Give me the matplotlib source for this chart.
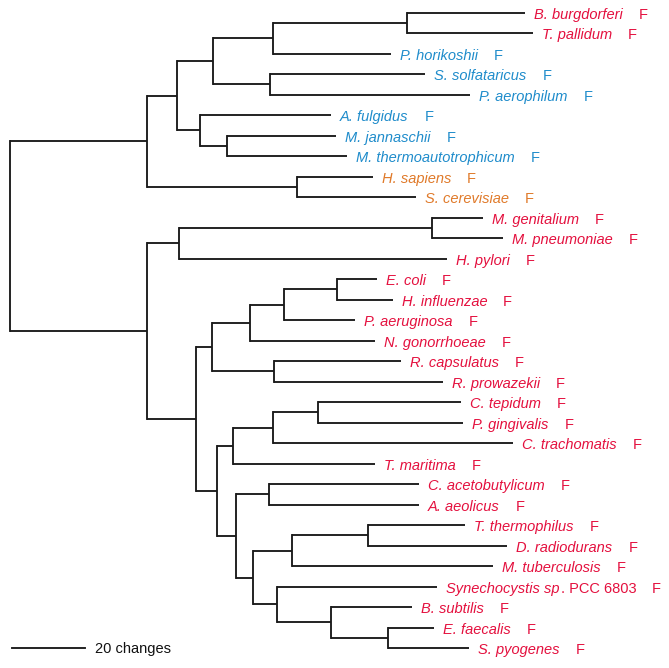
import matplotlib
matplotlib.use('Agg')
import matplotlib.pyplot as plt

# ---------------- data ----------------
tree_newick = (
    "((((((B_burgdorferi:32.3,T_pallidum:34.5):36.7,P_horikoshii:32.3):16.4,"
    "(S_solfataricus:42.5,P_aerophilum:54.8):15.6):9.9,"
    "(A_fulgidus:35.9,(M_jannaschii:29.9,M_thermoautotrophicum:32.9):7.4):6.3):8.2,"
    "(H_sapiens:20.8,S_cerevisiae:32.6):41.1):37.5,"
    "(((M_genitalium:14.0,M_pneumoniae:19.5):69.3,H_pylori:73.4):8.8,"
    "(((((E_coli:11.0,H_influenzae:15.3):14.5,P_aeruginosa:19.5):9.3,N_gonorrhoeae:34.2):10.4,"
    "(R_capsulatus:34.8,R_prowazekii:46.3):17.0):4.4,"
    "((((C_tepidum:39.2,P_gingivalis:39.7):12.3,C_trachomatis:65.8):11.0,T_maritima:38.9):4.4,"
    "((C_acetobutylicum:41.1,A_aeolicus:41.1):9.0,"
    "(((T_thermophilus:26.6,D_radiodurans:38.1):20.8,M_tuberculosis:55.1):10.7,"
    "(Synechocystis:43.8,(B_subtilis:22.2,(E_faecalis:12.6,S_pyogenes:22.2):15.6):14.8):6.6):4.7):5.2):5.8):13.4):37.5)"
)

leaf_labels = {
    "B_burgdorferi": ("B. burgdorferi", ""), "T_pallidum": ("T. pallidum", ""),
    "P_horikoshii": ("P. horikoshii", ""), "S_solfataricus": ("S. solfataricus", ""),
    "P_aerophilum": ("P. aerophilum", ""), "A_fulgidus": ("A. fulgidus", ""),
    "M_jannaschii": ("M. jannaschii", ""), "M_thermoautotrophicum": ("M. thermoautotrophicum", ""),
    "H_sapiens": ("H. sapiens", ""), "S_cerevisiae": ("S. cerevisiae", ""),
    "M_genitalium": ("M. genitalium", ""), "M_pneumoniae": ("M. pneumoniae", ""),
    "H_pylori": ("H. pylori", ""), "E_coli": ("E. coli", ""),
    "H_influenzae": ("H. influenzae", ""), "P_aeruginosa": ("P. aeruginosa", ""),
    "N_gonorrhoeae": ("N. gonorrhoeae", ""), "R_capsulatus": ("R. capsulatus", ""),
    "R_prowazekii": ("R. prowazekii", ""), "C_tepidum": ("C. tepidum", ""),
    "P_gingivalis": ("P. gingivalis", ""), "C_trachomatis": ("C. trachomatis", ""),
    "T_maritima": ("T. maritima", ""), "C_acetobutylicum": ("C. acetobutylicum", ""),
    "A_aeolicus": ("A. aeolicus", ""), "T_thermophilus": ("T. thermophilus", ""),
    "D_radiodurans": ("D. radiodurans", ""), "M_tuberculosis": ("M. tuberculosis", ""),
    "Synechocystis": ("Synechocystis sp", ". PCC 6803"), "B_subtilis": ("B. subtilis", ""),
    "E_faecalis": ("E. faecalis", ""), "S_pyogenes": ("S. pyogenes", ""),
}

archaea = ["P_horikoshii", "S_solfataricus", "P_aerophilum", "A_fulgidus",
           "M_jannaschii", "M_thermoautotrophicum"]
eukarya = ["H_sapiens", "S_cerevisiae"]
group_colors = {"bacteria": "#E4103E", "archaea": "#1F8CCB", "eukarya": "#E07A2A"}
marker_text = "F"
scale_length = 20
scale_label = "20 changes"

# ---------------- parse ----------------
def parse(s):
    pos = 0
    def node():
        nonlocal pos
        children = []
        if s[pos] == '(':
            pos += 1
            while True:
                children.append(node())
                if s[pos] == ',':
                    pos += 1
                    continue
                if s[pos] == ')':
                    pos += 1
                    break
        start = pos
        while pos < len(s) and s[pos] not in ':,();':
            pos += 1
        name = s[start:pos]
        length = 0.0
        if pos < len(s) and s[pos] == ':':
            pos += 1
            start = pos
            while pos < len(s) and s[pos] not in ',();':
                pos += 1
            length = float(s[start:pos])
        return {'name': name, 'children': children, 'len': length}
    return node()

root = parse(tree_newick)
leaves = []

def layout(n, x0):
    n['x'] = x0 + n['len']
    if not n['children']:
        n['y'] = len(leaves)
        leaves.append(n)
    else:
        for c in n['children']:
            layout(c, n['x'])
        n['y'] = (n['children'][0]['y'] + n['children'][-1]['y']) / 2

root['len'] = 0.0
layout(root, 0.0)

# ---------------- draw ----------------
W, H = 669, 668
fig = plt.figure(figsize=(W / 100, H / 100), dpi=100)
ax = fig.add_axes([0, 0, 1, 1])
px_per_unit = 3.65
x0_px = 10
y0_px, dy_px = 12.5, 20.5
ax.set_xlim(-x0_px / px_per_unit, (W - x0_px) / px_per_unit)
ax.set_ylim((H - y0_px) / dy_px, -y0_px / dy_px)
ax.axis('off')

lc = '#1a1a1a'
lw = 1.35

def draw(n):
    if n['children']:
        ax.plot([n['x'], n['x']], [n['children'][0]['y'], n['children'][-1]['y']],
                color=lc, lw=lw, solid_capstyle='projecting')
        for c in n['children']:
            ax.plot([n['x'], c['x']], [c['y'], c['y']], color=lc, lw=lw,
                    solid_capstyle='butt')
            draw(c)

draw(root)

fs = 10.5
fam = ['Liberation Sans', 'DejaVu Sans']
fig.canvas.draw()
renderer = fig.canvas.get_renderer()
inv = ax.transData.inverted()

def px2data_dx(dpx):
    return dpx / px_per_unit

for lf in leaves:
    name = lf['name']
    if name in archaea:
        col = group_colors['archaea']
    elif name in eukarya:
        col = group_colors['eukarya']
    else:
        col = group_colors['bacteria']
    ital, rest = leaf_labels[name]
    y = lf['y'] + 0.12
    t = ax.text(lf['x'] + px2data_dx(9), y, ital, fontsize=fs, style='italic',
                color=col, va='center', ha='left', family=fam)
    bb = t.get_window_extent(renderer)
    xend = inv.transform((bb.x1, bb.y0))[0]
    if rest:
        t2 = ax.text(xend + px2data_dx(1), y, rest, fontsize=fs, color=col,
                     va='center', ha='left', family=fam)
        bb = t2.get_window_extent(renderer)
        xend = inv.transform((bb.x1, bb.y0))[0]
    ax.text(xend + px2data_dx(16), y, marker_text, fontsize=fs, color=col,
            va='center', ha='left', family=fam)

# scale bar
sb_x = 2 / px_per_unit
sb_y = (648 - y0_px) / dy_px
ax.plot([sb_x, sb_x + scale_length], [sb_y, sb_y], color=lc, lw=lw)
ax.text(sb_x + scale_length + px2data_dx(10), sb_y + 0.05, scale_label, fontsize=fs,
        color='#111111', va='center', ha='left', family=fam)

fig.savefig('out.png', dpi=100)
